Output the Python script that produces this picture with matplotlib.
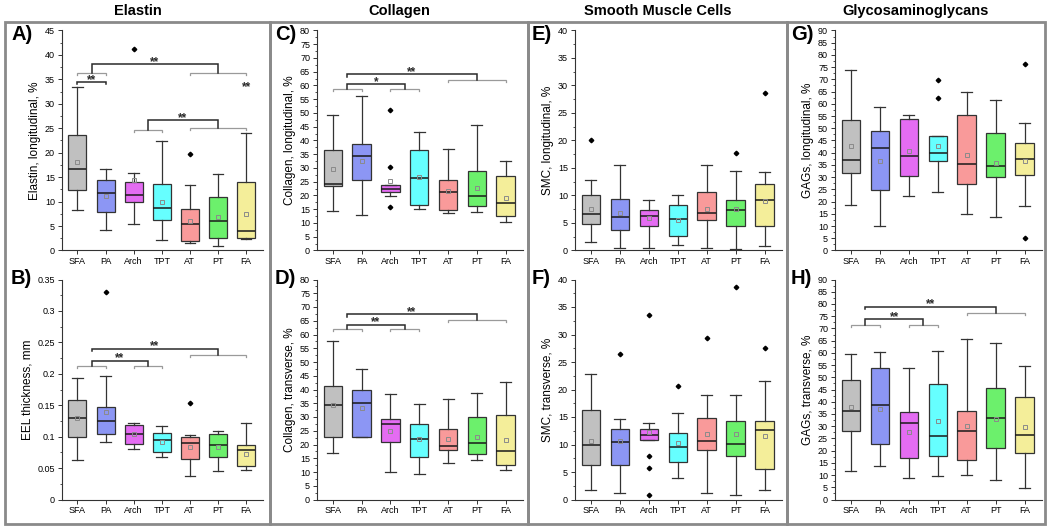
import numpy as np
import matplotlib
matplotlib.use("Agg")
import matplotlib.pyplot as plt
from matplotlib.patches import Rectangle
from matplotlib.ticker import MultipleLocator, FormatStrFormatter

plt.rcParams["font.family"] = ["Liberation Sans", "DejaVu Sans"]

W, H = 1050, 531

SITES = ["SFA", "PA", "Arch", "TPT", "AT", "PT", "FA"]
COLORS = ["#c0c0c0", "#8c96f4", "#e46cf2", "#66ffff", "#f99a9a", "#6cf06c", "#f4ee9a"]

COLUMN_TITLES = ["Elastin", "Collagen", "Smooth Muscle Cells", "Glycosaminoglycans"]

# (whisker low, q1, median, q3, whisker high, mean) per site
ELASTIN_LONG = [
    (8.2, 12.3, 16.7, 23.6, 33.4, 18.2),
    (4.2, 7.8, 11.7, 14.4, 16.7, 11.1),
    (5.4, 9.9, 11.4, 14.0, 15.8, 14.4),
    (2.1, 6.2, 8.6, 13.7, 22.4, 9.9),
    (1.6, 1.9, 5.4, 8.4, 13.3, 6.1),
    (0.9, 2.6, 6.0, 11.0, 15.6, 6.9),
    (2.4, 2.5, 3.9, 14.0, 24.1, 7.4),
]
ELASTIN_LONG_OUT = [[], [], [41.3], [], [19.7], [], []]

EEL_THICK = [
    (0.063, 0.100, 0.129, 0.159, 0.193, 0.130),
    (0.091, 0.105, 0.125, 0.147, 0.196, 0.139),
    (0.080, 0.089, 0.104, 0.119, 0.121, 0.104),
    (0.068, 0.075, 0.095, 0.106, 0.117, 0.092),
    (0.038, 0.064, 0.090, 0.099, 0.103, 0.084),
    (0.045, 0.067, 0.087, 0.105, 0.109, 0.084),
    (0.047, 0.054, 0.078, 0.087, 0.121, 0.073),
]
EEL_THICK_OUT = [[], [0.330], [], [], [0.153], [], []]

COLL_LONG = [
    (14.5, 23.3, 24.2, 36.5, 49.4, 29.7),
    (13.0, 25.5, 34.3, 38.8, 56.2, 32.6),
    (19.8, 21.2, 22.5, 23.7, 23.7, 25.4),
    (15.0, 16.4, 26.5, 36.7, 43.2, 26.7),
    (13.7, 14.8, 21.1, 25.5, 36.8, 21.6),
    (14.1, 16.3, 19.8, 28.9, 45.5, 22.8),
    (10.4, 12.6, 17.4, 27.1, 32.7, 19.0),
]
COLL_LONG_OUT = [[], [], [51.2, 30.4, 15.7], [], [], [], []]

COLL_TRANS = [
    (16.9, 22.8, 34.5, 41.3, 57.6, 34.2),
    (22.6, 22.9, 35.0, 39.9, 47.3, 33.1),
    (10.1, 21.0, 27.4, 29.3, 38.3, 24.8),
    (9.2, 15.6, 22.1, 27.6, 34.8, 21.9),
    (13.2, 18.0, 19.6, 25.8, 36.6, 21.9),
    (14.2, 16.7, 20.4, 30.0, 38.8, 22.9),
    (10.6, 12.7, 17.5, 30.6, 42.6, 21.5),
]
COLL_TRANS_OUT = [[], [], [], [], [], [], []]

SMC_LONG = [
    (1.5, 4.8, 6.6, 10.0, 12.9, 7.5),
    (0.4, 3.7, 6.0, 9.4, 15.5, 6.9),
    (0.5, 4.4, 6.3, 7.3, 9.1, 5.9),
    (1.0, 2.7, 5.7, 8.3, 10.0, 5.5),
    (0.4, 5.5, 6.8, 10.7, 15.5, 7.6),
    (0.3, 4.4, 7.3, 9.1, 14.4, 7.5),
    (0.8, 4.4, 9.1, 12.1, 14.2, 9.0),
]
SMC_LONG_OUT = [[20.1], [], [], [], [], [17.8], [28.7]]

SMC_TRANS = [
    (1.8, 6.2, 10.0, 16.2, 22.8, 10.7),
    (1.1, 6.3, 10.5, 12.8, 14.7, 10.7),
    (10.9, 10.9, 11.7, 12.9, 14.0, 12.2),
    (3.9, 6.8, 9.6, 12.1, 15.8, 10.2),
    (1.2, 9.0, 10.7, 14.8, 19.0, 12.0),
    (0.9, 7.9, 10.1, 14.3, 19.0, 12.0),
    (1.7, 5.5, 12.6, 14.3, 21.6, 11.6),
]
SMC_TRANS_OUT = [[], [26.5], [33.6, 7.9, 5.8, 0.9], [20.6], [29.4], [38.6], [27.6]]

GAG_LONG = [
    (18.5, 31.5, 37.0, 53.5, 74.0, 42.7),
    (10.1, 24.6, 42.1, 48.8, 58.5, 36.7),
    (22.3, 30.6, 38.6, 53.6, 55.3, 40.7),
    (23.8, 36.5, 40.0, 46.7, 46.7, 42.7),
    (15.1, 27.1, 35.2, 55.4, 64.7, 39.1),
    (13.7, 29.9, 34.5, 48.1, 61.4, 35.9),
    (18.3, 30.7, 37.3, 44.1, 52.3, 36.6),
]
GAG_LONG_OUT = [[], [], [], [69.8, 62.2], [], [], [76.2, 5.1]]

GAG_TRANS = [
    (11.8, 28.0, 36.1, 48.9, 59.5, 38.0),
    (13.7, 22.8, 38.8, 53.9, 60.2, 37.1),
    (8.6, 17.1, 31.1, 35.6, 54.0, 27.6),
    (9.8, 17.6, 26.1, 47.3, 60.7, 32.1),
    (10.0, 16.1, 28.2, 36.3, 65.7, 29.9),
    (8.1, 21.0, 33.5, 45.8, 64.0, 32.8),
    (4.9, 19.0, 26.2, 42.0, 54.7, 29.6),
]
GAG_TRANS_OUT = [[], [], [], [], [], [], []]

# significance brackets: grey group brackets (x0, x1, y), black links (x0, x1, y, y_left, y_right, label)
A_GREY = [(0, 1, 36.3), (4, 6, 36.3), (2, 3, 24.7), (4, 6, 25.0)]
A_BLACK = [(0, 1, 34.5, 34.0, 34.0, "**"), (0.5, 5, 38.1, 36.3, 36.3, "**"),
           (2.5, 5, 26.6, 24.7, 25.0, "**")]
A_TEXT = [(6, 34.1, "**")]
B_GREY = [(0, 1, 0.212), (2, 3, 0.212), (4, 6, 0.230)]
B_BLACK = [(0.5, 2.5, 0.221, 0.212, 0.212, "**"), (0.5, 5, 0.240, 0.236, 0.230, "**")]
C_GREY = [(0, 1, 58.9), (2, 3, 58.9), (4, 6, 62.1)]
C_BLACK = [(0.5, 2.5, 60.5, 58.9, 58.9, "*"), (0.5, 5, 64.0, 63.0, 62.1, "**")]
D_GREY = [(0, 1, 61.9), (2, 3, 61.9), (4, 6, 65.2)]
D_BLACK = [(0.5, 2.5, 63.6, 61.9, 61.9, "**"), (0.5, 5, 67.3, 66.3, 65.2, "**")]
H_GREY = [(0, 1, 71.3), (2, 3, 71.3), (4, 6, 76.4)]
H_BLACK = [(0.5, 2.5, 73.9, 71.3, 71.3, "**"), (0.5, 5, 78.9, 77.9, 76.4, "**")]

STAR_SIZE = 8.5


def px_axes(fig, left, top, right, bottom):
    return fig.add_axes([left / W, 1 - bottom / H, (right - left) / W, (bottom - top) / H])


def draw_boxes(ax, stats, outliers):
    bstats = []
    for (lo, q1, med, q3, hi, mean), fl in zip(stats, outliers):
        bstats.append({"whislo": lo, "q1": q1, "med": med, "q3": q3,
                       "whishi": hi, "mean": mean, "fliers": fl})
    res = ax.bxp(bstats, positions=range(len(stats)), widths=0.64, capwidths=0.38,
                 patch_artist=True, showmeans=True,
                 boxprops=dict(edgecolor="#333333", linewidth=0.9),
                 medianprops=dict(color="#1a1a1a", linewidth=1.1),
                 whiskerprops=dict(color="#333333", linewidth=0.9),
                 capprops=dict(color="#333333", linewidth=0.9),
                 meanprops=dict(marker="s", markerfacecolor="none", markeredgecolor="#8a8a8a",
                                markersize=3, markeredgewidth=0.7),
                 flierprops=dict(marker="D", markerfacecolor="black", markeredgecolor="black",
                                 markersize=2.3))
    for patch, c in zip(res["boxes"], COLORS):
        patch.set_facecolor(c)


def draw_sig(ax, grey, black, leg):
    for x0, x1, y in grey:
        ax.plot([x0, x0, x1, x1], [y - leg, y, y, y - leg], color="#9a9a9a", lw=0.9,
                solid_joinstyle="miter", zorder=3)
    for x0, x1, y, yl, yr, lab in black:
        ax.plot([x0, x0, x1, x1], [yl, y, y, yr], color="#2a2a2a", lw=1.1,
                solid_joinstyle="miter", zorder=3)
        ax.annotate(lab, ((x0 + x1) / 2, y), xytext=(0, -0.6), textcoords="offset points",
                    ha="center", va="baseline", fontsize=STAR_SIZE, fontweight="bold",
                    color="#2a2a2a")


def style_axes(ax, ymax, major, minor, fmt, ylabel):
    ax.set_xlim(-0.55, 6.6)
    ax.set_ylim(0, ymax)
    ax.yaxis.set_major_locator(MultipleLocator(major))
    ax.yaxis.set_minor_locator(MultipleLocator(minor))
    ax.yaxis.set_major_formatter(FormatStrFormatter(fmt))
    ax.set_xticks(range(len(SITES)))
    ax.set_xticklabels(SITES)
    for s in ["top", "right"]:
        ax.spines[s].set_visible(False)
    for s in ["left", "bottom"]:
        ax.spines[s].set_color("#333333")
        ax.spines[s].set_linewidth(0.8)
    ax.tick_params(which="major", direction="out", length=3, width=0.7, labelsize=6.5,
                   colors="#333333", labelcolor="black", pad=2)
    ax.tick_params(which="minor", direction="out", length=1.7, width=0.6, colors="#333333")
    ax.tick_params(axis="x", which="minor", bottom=False)
    ax.set_ylabel(ylabel, fontsize=8.5, labelpad=3)
    ax.set_facecolor("none")


fig = plt.figure(figsize=(W / 100, H / 100), dpi=100)

lefts = [62, 317, 575, 835]
rights = [263, 523, 782, 1042]
tops = [(30.5, 250.5), (279.5, 499.5)]

panels = [
    # col, row, letter, stats, outliers, ymax, major, minor, fmt, ylabel, grey, black, extra
    (0, 0, "A)", ELASTIN_LONG, ELASTIN_LONG_OUT, 45, 5, 2.5, "%g", "Elastin, longitudinal, %", A_GREY, A_BLACK, A_TEXT),
    (0, 1, "B)", EEL_THICK, EEL_THICK_OUT, 0.35, 0.05, 0.025, "%g", "EEL thickness, mm", B_GREY, B_BLACK, []),
    (1, 0, "C)", COLL_LONG, COLL_LONG_OUT, 80, 5, 2.5, "%g", "Collagen, longitudinal, %", C_GREY, C_BLACK, []),
    (1, 1, "D)", COLL_TRANS, COLL_TRANS_OUT, 80, 5, 2.5, "%g", "Collagen, transverse, %", D_GREY, D_BLACK, []),
    (2, 0, "E)", SMC_LONG, SMC_LONG_OUT, 40, 5, 2.5, "%g", "SMC, longitudinal, %", [], [], []),
    (2, 1, "F)", SMC_TRANS, SMC_TRANS_OUT, 40, 5, 2.5, "%g", "SMC, transverse, %", [], [], []),
    (3, 0, "G)", GAG_LONG, GAG_LONG_OUT, 90, 5, 2.5, "%g", "GAGs, longitudinal, %", [], [], []),
    (3, 1, "H)", GAG_TRANS, GAG_TRANS_OUT, 90, 5, 2.5, "%g", "GAGs, transverse, %", H_GREY, H_BLACK, []),
]

letter_x = [11, 275, 532, 791]
letter_y = [35, 279]

for col, row, letter, stats, outl, ymax, major, minor, fmt, ylab, grey, black, extra in panels:
    t, b = tops[row]
    ax = px_axes(fig, lefts[col], t, rights[col], b)
    draw_boxes(ax, stats, outl)
    style_axes(ax, ymax, major, minor, fmt, ylab)
    draw_sig(ax, grey, black, leg=ymax * 0.009)
    # standalone stars: y is the centre of the glyphs
    for x, y, lab in extra:
        ax.annotate(lab, (x, y), xytext=(0, -0.58 * STAR_SIZE), textcoords="offset points",
                    ha="center", va="baseline", fontsize=STAR_SIZE, fontweight="bold",
                    color="#2a2a2a")
    fig.text(letter_x[col] / W, 1 - letter_y[row] / H, letter, fontsize=14.5, fontweight="bold",
             ha="left", va="center")

# column frames and titles
frame_x = [5, 270, 528, 787, 1045]
for i, title in enumerate(COLUMN_TITLES):
    x0, x1 = frame_x[i], frame_x[i + 1]
    fig.patches.append(Rectangle((x0 / W, 1 - 524 / H), (x1 - x0) / W, (524 - 22) / H,
                                 transform=fig.transFigure, fill=False,
                                 edgecolor="#8a8a8a", linewidth=2))
    fig.text((x0 + x1) / 2 / W, 1 - 11 / H, title, fontsize=10.5, fontweight="bold",
             ha="center", va="center")

fig.savefig("out.png", dpi=100)
